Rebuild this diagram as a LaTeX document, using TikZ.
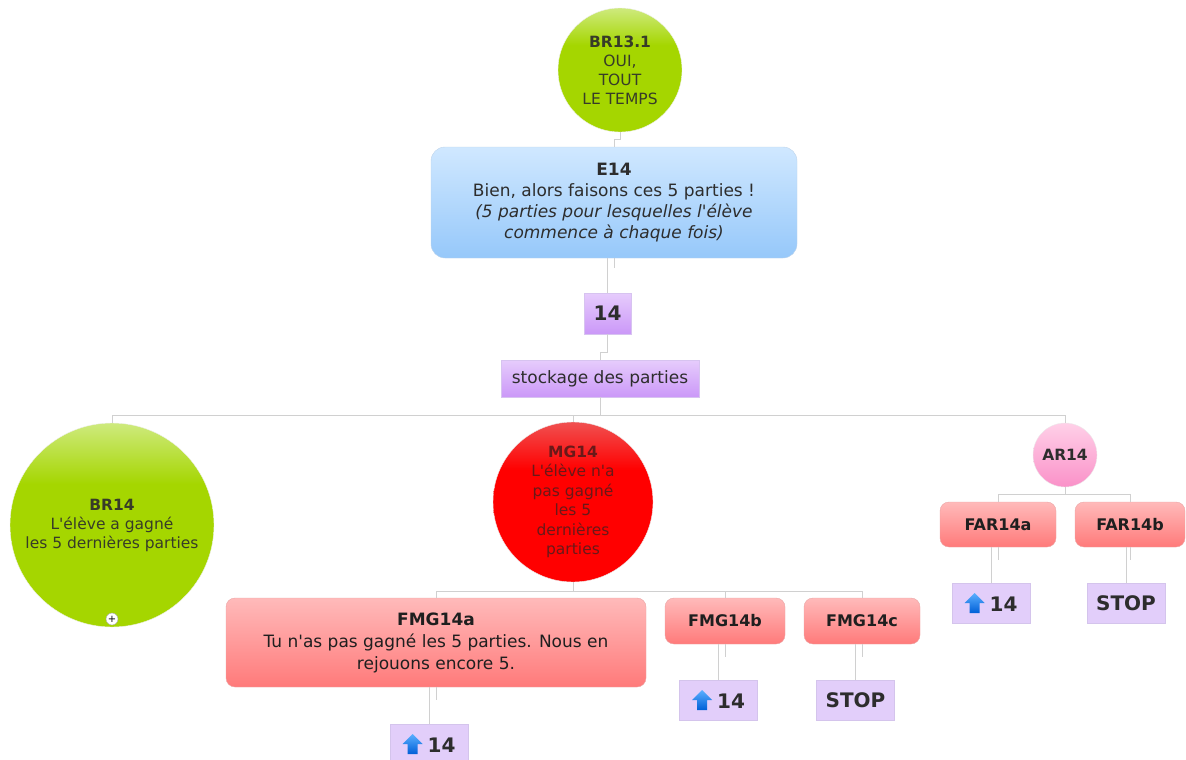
\documentclass[tikz,border=0pt]{standalone}
\usepackage{fontspec}
\setmainfont{DejaVu Sans}
\usetikzlibrary{calc}
\definecolor{lineg}{RGB}{208,208,208}
\definecolor{gT}{RGB}{206,234,125}
\definecolor{gB}{RGB}{165,214,0}
\definecolor{gtxt}{RGB}{55,60,40}
\definecolor{bT}{RGB}{208,232,255}
\definecolor{bM}{RGB}{165,210,252}
\definecolor{bB}{RGB}{150,200,250}
\definecolor{bbord}{RGB}{190,212,235}
\definecolor{pT}{RGB}{230,204,252}
\definecolor{pB}{RGB}{203,152,248}
\definecolor{pbord}{RGB}{215,195,240}
\definecolor{rT}{RGB}{255,186,186}
\definecolor{rM}{RGB}{255,132,132}
\definecolor{rB}{RGB}{255,122,122}
\definecolor{rbord}{RGB}{235,165,165}
\definecolor{mgT}{RGB}{240,80,80}
\definecolor{mgB}{RGB}{255,0,0}
\definecolor{mgtxt}{RGB}{105,25,25}
\definecolor{pkT}{RGB}{255,208,232}
\definecolor{pkM}{RGB}{250,158,206}
\definecolor{pkB}{RGB}{250,145,200}
\definecolor{lav}{RGB}{226,206,250}
\definecolor{lavb}{RGB}{212,196,236}
\definecolor{txt}{RGB}{45,45,45}
\definecolor{arT}{RGB}{90,175,255}
\definecolor{arB}{RGB}{0,95,215}
\pgfdeclareverticalshading{greensh}{100bp}{color(0bp)=(gB); color(60bp)=(gB); color(75bp)=(gT); color(100bp)=(gT)}
\pgfdeclareverticalshading{redsh}{100bp}{color(0bp)=(mgB); color(60bp)=(mgB); color(75bp)=(mgT); color(100bp)=(mgT)}
\newcommand\apos{\textquotesingle}
\newcommand\blueup{\tikz[baseline=1pt]{\shade[top color=arT,bottom color=arB] (-5pt,-1pt) -- (5pt,-1pt) -- (5pt,9pt) -- (10pt,9pt) -- (0pt,19pt) -- (-10pt,9pt) -- (-5pt,9pt) -- cycle;}}
\begin{document}
\begin{tikzpicture}[x=1pt,y=-1pt,
  conn/.style={draw=lineg, line width=1pt},
  gcirc/.style={circle, draw=white!88!gray, shade, shading=greensh, text=gtxt, align=center, inner sep=0pt, font=\fontsize{15.5}{19}\selectfont},
  bluebox/.style={rectangle, rounded corners=14pt, draw=bbord, top color=bT, middle color=bM, bottom color=bB, align=center, text=txt, inner sep=0pt, font=\fontsize{17}{21}\selectfont},
  redbox/.style={rectangle, rounded corners=9pt, draw=rbord, top color=rT, middle color=rM, bottom color=rB, align=center, text=black!88, inner sep=0pt, font=\fontsize{16}{22}\selectfont\bfseries},
  purpbox/.style={rectangle, draw=pbord, top color=pT, bottom color=pB, align=center, text=txt, inner sep=0pt},
  lavbox/.style={rectangle, draw=lavb, fill=lav, text=txt, inner sep=0pt, minimum width=78pt, minimum height=40pt, font=\fontsize{20}{24}\selectfont\bfseries}
]
\useasboundingbox (0,0) rectangle (1186,760);

% nodes
\node[gcirc, minimum size=124pt] (br131) at (620,70) {\textbf{BR13.1}\\OUI,\\TOUT\\LE TEMPS};
\node[bluebox, minimum width=366pt, minimum height=111pt] (e14) at (614,202.5) {\textbf{E14}\\Bien, alors faisons ces 5 parties !\\{\itshape (5 parties pour lesquelles l\apos élève}\\{\itshape commence à chaque fois)}};
\node[purpbox, minimum width=47pt, minimum height=41pt, font=\fontsize{20}{24}\selectfont\bfseries] (n14) at (607.5,313.5) {14};
\node[purpbox, minimum width=198pt, minimum height=37pt, font=\fontsize{17}{21}\selectfont] (stock) at (600,378.5) {stockage des parties};

\node[gcirc, minimum size=204pt] (br14) at (112,525) {\textbf{BR14}\\L\apos élève a gagné\\les 5 dernières parties};
\node[circle, draw=gray!70, fill=white, inner sep=0pt, minimum size=12pt, font=\fontsize{10}{10}\selectfont] (plus) at (112,619) {+};
\node[circle, draw=white!85!gray, shade, shading=redsh, text=mgtxt, align=center, inner sep=0pt, minimum size=160pt, font=\fontsize{15.5}{19.5}\selectfont] (mg14) at (573,502) {\textbf{MG14}\\L\apos élève n\apos a\\pas gagné\\les 5\\dernières\\parties};
\node[circle, draw=white!85!gray, top color=pkT, middle color=pkM, bottom color=pkB, text=txt, inner sep=0pt, minimum size=64pt, font=\fontsize{15.5}{19}\selectfont\bfseries] (ar14) at (1065,455) {AR14};

\node[redbox, minimum width=116pt, minimum height=45pt] (fara) at (998,524.5) {FAR14a};
\node[redbox, minimum width=110pt, minimum height=45pt] (farb) at (1130,524.5) {FAR14b};
\node[lavbox] (lava) at (991,603) {\blueup\hspace{5pt}14};
\node[lavbox] (lavb) at (1126,603) {STOP};

\node[redbox, minimum width=420pt, minimum height=89pt, font=\fontsize{17}{22}\selectfont] (fmga) at (436,642.5) {\textbf{FMG14a}\\Tu n\apos as pas gagné les 5 parties. Nous en\\rejouons encore 5.};
\node[redbox, minimum width=120pt, minimum height=46pt] (fmgb) at (725,621) {FMG14b};
\node[redbox, minimum width=116pt, minimum height=46pt] (fmgc) at (862,621) {FMG14c};
\node[lavbox] (lavma) at (429,744) {\blueup\hspace{5pt}14};
\node[lavbox] (lavmb) at (718.5,700) {\blueup\hspace{5pt}14};
\node[lavbox] (lavmc) at (855.5,700) {STOP};

% connectors
\coordinate (bus) at (600,415);
\coordinate (arbus) at (1065,494);
\coordinate (mgbus) at (573,591);
\draw[conn] (br131.south) -- ++(0,7) -| (e14.north);
\draw[conn] (e14.south -| n14.north) -- (n14.north);
\draw[conn] (e14.south) -- ++(0,10);
\draw[conn] (n14.south) -- ++(0,18) -| (stock.north);
\draw[conn] (stock.south) -- (bus);
\draw[conn] (br14.north) -- (br14.north |- bus) -- (ar14.north |- bus) -- (ar14.north);
\draw[conn] (mg14.north |- bus) -- (mg14.north);
\draw[conn] (ar14.south) -- (arbus);
\draw[conn] (fara.north) -- (fara.north |- arbus) -- (farb.north |- arbus) -- (farb.north);
\draw[conn] (fara.south -| lava.north) -- (lava.north);
\draw[conn] (fara.south) -- ++(0,13);
\draw[conn] (farb.south -| lavb.north) -- (lavb.north);
\draw[conn] (farb.south) -- ++(0,13);
\draw[conn] (mg14.south) -- (mgbus);
\draw[conn] (fmga.north) -- (fmga.north |- mgbus) -- (fmgc.north |- mgbus) -- (fmgc.north);
\draw[conn] (fmgb.north |- mgbus) -- (fmgb.north);
\draw[conn] (fmga.south -| lavma.north) -- (lavma.north);
\draw[conn] (fmga.south) -- ++(0,13);
\draw[conn] (fmgb.south -| lavmb.north) -- (lavmb.north);
\draw[conn] (fmgb.south) -- ++(0,13);
\draw[conn] (fmgc.south -| lavmc.north) -- (lavmc.north);
\draw[conn] (fmgc.south) -- ++(0,13);
\end{tikzpicture}
\end{document}
